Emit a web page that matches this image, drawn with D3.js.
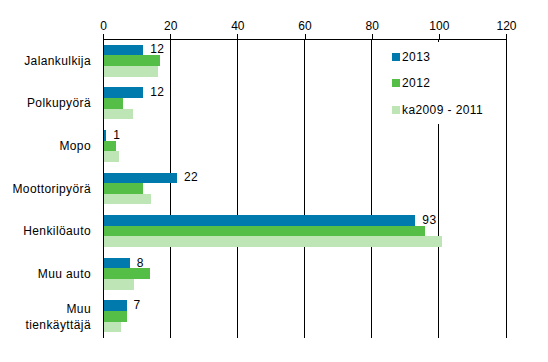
<!DOCTYPE html>
<html>
<head>
<meta charset="utf-8">
<script src="https://cdn.jsdelivr.net/npm/d3@7"></script>
<style>
  html, body { margin: 0; padding: 0; background: #fff; }
  svg { display: block; font-family: Arial, "Liberation Sans", sans-serif; }
</style>
</head>
<body>
<svg id="chart" width="548" height="362"></svg>
<script>
const categories = ["Jalankulkija", "Polkupyörä", "Mopo", "Moottoripyörä", "Henkilöauto", "Muu auto", "Muu tienkäyttäjä"];
const seriesNames = ["2013", "2012", "ka2009 - 2011"];
const values2013 = [12, 12, 1, 22, 93, 8, 7];
const values2012 = [17, 6, 4, 12, 96, 14, 7];
const valuesAvg = [16.5, 8.8, 4.9, 14.4, 101, 9.1, 5.3];
const xTicks = [0, 20, 40, 60, 80, 100, 120];
const colors = ["#0079AC", "#54BE47", "#BDE5B5"];

const seriesValues = [values2013, values2012, valuesAvg];
const svg = d3.select("#chart");

const pLeft = 103, pRight = 506, pTop = 39, pBottom = 338;
const x = d3.scaleLinear().domain([0, 120]).range([pLeft, pRight]);
const y = d3.scaleBand().domain(categories).range([pTop, pBottom]).paddingInner(0.25).paddingOuter(0.13);
const ySub = d3.scaleBand().domain(seriesNames).range([0, y.bandwidth()]);

// gridlines
svg.append("g").selectAll("line").data(xTicks.slice(1)).join("line")
  .attr("x1", d => x(d)).attr("x2", d => x(d))
  .attr("y1", pTop).attr("y2", pBottom)
  .attr("stroke", "#000").attr("stroke-width", 1).attr("shape-rendering", "crispEdges");

// legend background box (covers gridline)
svg.append("rect").attr("x", 385).attr("y", 42).attr("width", 110).attr("height", 82).attr("fill", "#fff");

// bars
const groups = svg.append("g").selectAll("g").data(categories).join("g")
  .attr("transform", d => `translate(0,${y(d)})`);
seriesNames.forEach((s, si) => {
  groups.append("rect")
    .attr("x", x(0))
    .attr("y", ySub(s))
    .attr("width", (d, i) => x(seriesValues[si][i]) - x(0))
    .attr("height", ySub.bandwidth())
    .attr("fill", colors[si])
    .attr("shape-rendering", "crispEdges");
});

// value labels for 2013
groups.append("text")
  .attr("x", (d, i) => x(values2013[i]) + 7)
  .attr("y", ySub("2013") + ySub.bandwidth() / 2)
  .attr("dy", "0.3em")
  .attr("font-size", 12)
  .attr("letter-spacing", 0.4)
  .attr("fill", "#000")
  .text((d, i) => values2013[i]);

// top axis
const axis = d3.axisTop(x).tickValues(xTicks).tickSize(5).tickSizeOuter(0).tickFormat(d3.format("d"));
const ax = svg.append("g").attr("transform", `translate(0,${pTop})`).call(axis);
ax.select(".domain").attr("stroke", "#000").attr("shape-rendering", "crispEdges");
ax.selectAll(".tick line").attr("stroke", "#000").attr("shape-rendering", "crispEdges");
ax.selectAll(".tick text").attr("font-size", 12).attr("font-family", "Arial, 'Liberation Sans', sans-serif").attr("fill", "#000").attr("y", -9);

// left axis line
svg.append("line").attr("x1", pLeft).attr("x2", pLeft).attr("y1", pTop).attr("y2", pBottom)
  .attr("stroke", "#000").attr("shape-rendering", "crispEdges");

// category labels
const labelLines = {"Muu tienkäyttäjä": ["Muu", "tienkäyttäjä"]};
categories.forEach(c => {
  const lines = labelLines[c] || [c];
  const cy = y(c) + y.bandwidth() / 2;
  const t = svg.append("text").attr("text-anchor", "end").attr("font-size", 12)
    .attr("letter-spacing", 0.4).attr("fill", "#000");
  lines.forEach((ln, li) => {
    t.append("tspan").attr("x", 91)
      .attr("y", cy + (li - (lines.length - 1) / 2) * 16)
      .attr("dy", "0.35em").text(ln);
  });
});

// legend
const legendY = [57, 83, 110];
seriesNames.forEach((s, i) => {
  svg.append("rect").attr("x", 392).attr("y", legendY[i] - 4).attr("width", 8).attr("height", 8).attr("fill", colors[i]);
  svg.append("text").attr("x", 402).attr("y", legendY[i]).attr("dy", "0.35em").attr("font-size", 12)
    .attr("letter-spacing", 0.4).attr("fill", "#000").text(s);
});
</script>
</body>
</html>
